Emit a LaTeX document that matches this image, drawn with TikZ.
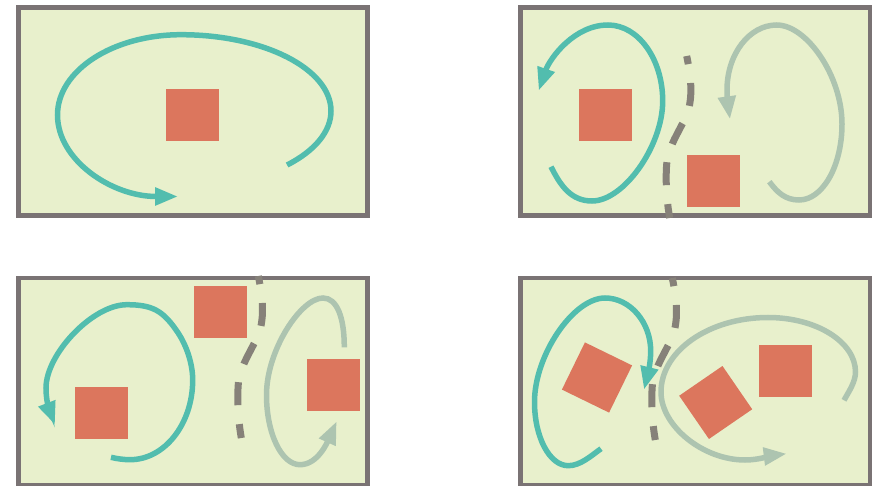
\documentclass[tikz,border=0pt]{standalone}
\usetikzlibrary{arrows.meta}
\definecolor{bgfill}{RGB}{232,240,204}
\definecolor{frameg}{RGB}{122,115,116}
\definecolor{tealc}{RGB}{82,189,174}
\definecolor{sagec}{RGB}{173,196,176}
\definecolor{redc}{RGB}{220,118,93}
\definecolor{dashc}{RGB}{134,129,121}
\tikzset{
  panel/.style={draw=frameg, fill=bgfill, line width=4.7pt},
  sq/.style={fill=redc, inner sep=0pt, minimum size=52.5pt, draw=none},
  flowA/.style={draw=tealc, line width=5.5pt, -{Triangle[length=23pt,width=17pt]}},
  flowB/.style={draw=sagec, line width=5.5pt, -{Triangle[length=23pt,width=17pt]}},
  divider/.style={draw=dashc, line width=7pt, dash pattern=on 23pt off 19pt, dash phase=14.7pt}
}
\begin{document}
\begin{tikzpicture}[x=1pt,y=-1pt]
\useasboundingbox (0,0) rectangle (881,486);
% frames
\path[panel] (18.3,7.7) rectangle (367.7,215.3);
\path[panel] (520.7,7.7) rectangle (870,215.3);
\path[panel] (18.3,278) rectangle (367.7,485.5);
\path[panel] (520.7,278) rectangle (870,485.5);

% panel 1
\node[sq] (s1) at (192.5,115) {};
\draw[flowA] (287.1,165) .. controls +(28.1,-14.3) and +(0,20.2) .. (331,111)
  .. controls +(0,-42.1) and +(82.8,0) .. (181,34.7)
  .. controls +(-68.4,0) and +(0,-44.3) .. (57.5,115)
  .. controls +(0,45) and +(-66.5,0) .. (178,196.5);

% panel 2
\node[sq] (s2a) at (605.5,115) {};
\node[sq] (s2b) at (713.5,181) {};
\draw[divider, shift={(686.7,56)}] plot[smooth] coordinates {(0,0) (3.5,20) (4,40) (1,57) (-6,71) (-14,87) (-19.5,104) (-20.5,125) (-19,148) (-17,162)};
\draw[flowA] (551,166.7) .. controls +(9.5,19) and +(-21,0) .. (592,201)
  .. controls +(31.8,0) and +(0,45) .. (662.7,101)
  .. controls +(0,-42) and +(30.2,0) .. (608,25)
  .. controls +(-34,0) and +(11,-32) .. (538.7,90.7);
\draw[flowB] (769.3,181.7) .. controls +(7.8,10.4) and +(-14,0) .. (799,200)
  .. controls +(23.7,0) and +(0,42) .. (842,124)
  .. controls +(0,-48) and +(30,0) .. (776.7,25)
  .. controls +(-27.4,0) and +(0,-35.9) .. (727,90)
  .. controls +(0,10) and +(-1.4,-10) .. (730,119.3);

% panel 3
\node[sq] (s3a) at (220.5,312) {};
\node[sq] (s3b) at (101.5,413) {};
\node[sq] (s3c) at (333.5,385) {};
\draw[divider, shift={(258.3,276)}] plot[smooth] coordinates {(0,0) (3.5,20) (4,40) (1,57) (-6,71) (-14,87) (-19.5,104) (-20.5,125) (-19,148) (-17,162)};
\draw[flowA] (111,457.3) .. controls +(6,1.5) and +(-6,0) .. (130,459.7)
  .. controls +(34.6,0) and +(0,44) .. (192.7,380)
  .. controls +(0,-16) and +(9,13.3) .. (177.7,332.3)
  .. controls +(-14.6,-21.6) and +(26,0) .. (126.7,304.7)
  .. controls +(-34,0) and +(0,-34) .. (46,388)
  .. controls +(0,14) and +(-5,-13) .. (55,424.7);
\draw[flowB] (344.3,347.3) .. controls +(0,-30) and +(14,0) .. (323,298)
  .. controls +(-22,0) and +(0,-45) .. (266.5,395)
  .. controls +(0,38.5) and +(-18.5,0) .. (300,464.7)
  .. controls +(18,0) and +(-9,20) .. (336.7,421.3);

% panel 4
\node[sq, rotate=-26] (s4a) at (597,377.5) {};
\node[sq, rotate=34.5] (s4b) at (715.7,402.5) {};
\node[sq] (s4c) at (785.5,371) {};
\draw[divider, shift={(672.3,278)}] plot[smooth] coordinates {(0,0) (3.5,20) (4,40) (1,57) (-6,71) (-14,87) (-19.5,104) (-20.5,125) (-19,148) (-17,162)};
\draw[flowA] (601,448.7) .. controls +(-9.7,7) and +(12,0) .. (568.3,465.7)
  .. controls +(-18.7,0) and +(0,35.2) .. (534.5,402)
  .. controls +(0,-46.8) and +(-31.7,0) .. (605,298)
  .. controls +(25.1,0) and +(0,-28.7) .. (650.7,351)
  .. controls +(0,13) and +(3.2,-13) .. (644,389.7);
\draw[flowB] (844,400.3) .. controls +(4.8,-8.8) and +(0,10) .. (855.5,372)
  .. controls +(0,-30.1) and +(48.3,0) .. (768,317.5)
  .. controls +(-59,0) and +(0,-41.1) .. (661,392)
  .. controls +(0,34) and +(-42,0) .. (745,460)
  .. controls +(14,0) and +(-14,1.7) .. (786.7,453.7);
\end{tikzpicture}
\end{document}
